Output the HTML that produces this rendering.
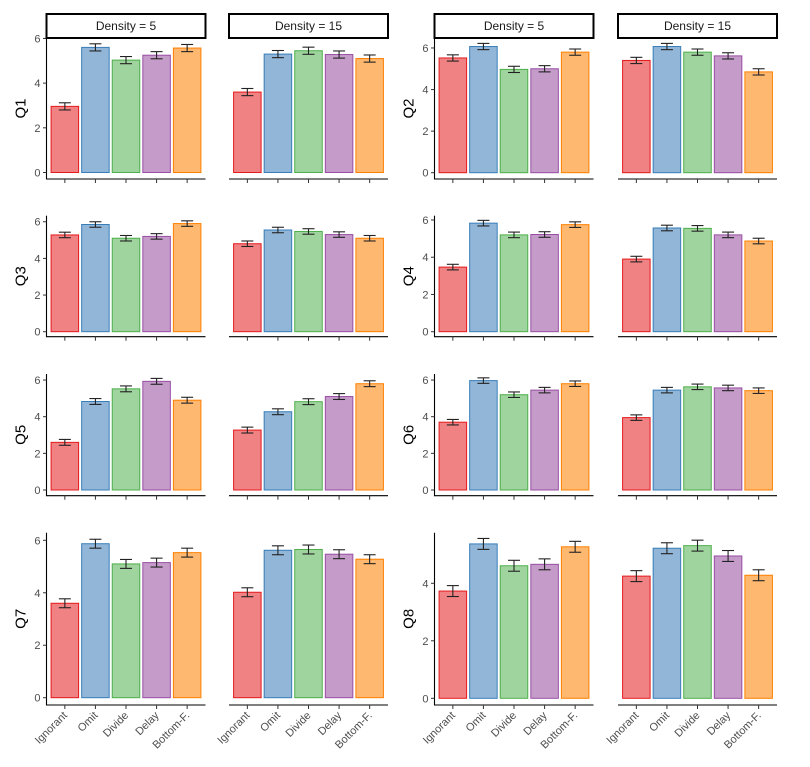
<!DOCTYPE html>
<html><head><meta charset="utf-8"><style>
body{margin:0;background:#fff;}
svg{display:block;font-family:"Liberation Sans",Arial,sans-serif;}
</style></head><body>
<svg id="chart" width="810" height="767"></svg>
<script>
const categories = ["Ignorant","Omit","Divide","Delay","Bottom-F."];
const densities = ["Density = 5","Density = 15"];
const questions = ["Q1","Q2","Q3","Q4","Q5","Q6","Q7","Q8"];
const q1d5 = [2.96,5.60,5.03,5.25,5.57];
const q1d15 = [3.60,5.30,5.45,5.28,5.10];
const q2d5 = [5.52,6.07,4.97,5.00,5.80];
const q2d15 = [5.40,6.07,5.80,5.62,4.85];
const q3d5 = [5.28,5.85,5.10,5.20,5.90];
const q3d15 = [4.80,5.55,5.47,5.30,5.10];
const q4d5 = [3.47,5.83,5.20,5.22,5.75];
const q4d15 = [3.90,5.57,5.55,5.20,4.87];
const q5d5 = [2.60,4.83,5.52,5.93,4.90];
const q5d15 = [3.27,4.27,4.82,5.10,5.80];
const q6d5 = [3.70,5.97,5.20,5.45,5.80];
const q6d15 = [3.95,5.45,5.63,5.57,5.42];
const q7d5 = [3.60,5.87,5.10,5.15,5.53];
const q7d15 = [4.02,5.62,5.65,5.47,5.28];
const q8d5 = [3.73,5.37,4.61,4.66,5.27];
const q8d15 = [4.25,5.22,5.31,4.95,4.28];
const errHalf = [0.16,0.15,0.15,0.15,0.16,0.15,0.17,0.19];
const yTicksStd = [0,2,4,6];
const yTicksQ8 = [0,2,4];

const seriesByQ = [[q1d5,q1d15],[q2d5,q2d15],[q3d5,q3d15],[q4d5,q4d15],[q5d5,q5d15],[q6d5,q6d15],[q7d5,q7d15],[q8d5,q8d15]];
const fills = ["#F08284","#92B6D8","#A0D49E","#C59CC9","#FFB870"];
const strokes = ["#E41A1C","#377EB8","#4DAF4A","#984EA3","#FF7F00"];
const colLeft = [46.5,229,434.5,618];
const panelW = 159;
// per-question frame: top px, zero px, ymax
const frames = [[38,172.5,6.02],[38,172.7,6.48],[215.7,331.7,6.33],[215.7,331.7,6.23],[374,490,6.33],[374,490,6.33],[532.7,697.7,6.29],[532.7,698.3,5.76]];
const axisYs = [179,336.7,495.7,705];

const NS="http://www.w3.org/2000/svg";
const svg=document.getElementById('chart');
function mk(tag,attrs,parent){const e=document.createElementNS(NS,tag);for(const k in attrs)e.setAttribute(k,attrs[k]);(parent||svg).appendChild(e);return e;}

questions.forEach((q,qi)=>{
  const row=Math.floor(qi/2), pair=qi%2;
  const [top,zero,ymax]=frames[qi];
  const yScale=v=>zero-v*(zero-top)/ymax;
  const axisY=axisYs[row];
  const ticks = qi===7?yTicksQ8:yTicksStd;
  // y axis (on first panel of pair)
  const axL=colLeft[pair*2];
  const yl=mk('line',{x1:axL,x2:axL,y1:top,y2:axisY+0.5,stroke:'#000','stroke-width':1.1});
  
  
  ticks.forEach(t=>{
    const yy=yScale(t);
    mk('line',{x1:axL-3.5,x2:axL,y1:yy,y2:yy,stroke:'#333','stroke-width':1});
    const tl=mk('text',{x:axL-6,y:yy+4,'text-anchor':'end','font-size':11,fill:'#4d4d4d'});
    tl.textContent=t;
    
    
  });
  const yt=mk('text',{x:0,y:0,'text-anchor':'middle','font-size':15,fill:'#000',transform:`translate(${axL-21},${(top+axisY)/2}) rotate(-90)`});
  yt.textContent=q;
  
  
  for(let d=0;d<2;d++){
    const L=colLeft[pair*2+d];
    const ppu=panelW/5.2;
    const xC=i=>L+(i+0.6)*ppu;
    const bw=0.9*ppu;
    const xl=mk('line',{x1:L,x2:L+panelW,y1:axisY,y2:axisY,stroke:'#000','stroke-width':1.1});
    
    
    if(row===0){
      const sr=mk('rect',{x:L,y:14,width:panelW,height:24,fill:'#fff',stroke:'#000','stroke-width':2});
      
      
      const st=mk('text',{x:L+panelW/2,y:30,'text-anchor':'middle','font-size':12,fill:'#1a1a1a'});
      st.textContent=densities[d];
      
      
    }
    const vals=seriesByQ[qi][d];
    const e=errHalf[qi];
    categories.forEach((c,i)=>{
      const cx=xC(i), v=vals[i];
      const b=mk('rect',{x:cx-bw/2,y:yScale(v),width:bw,height:yScale(0)-yScale(v),fill:fills[i],stroke:strokes[i],'stroke-width':1});
      
      
      const g=mk('g',{stroke:'#222','stroke-width':1.1});
      
      
      const yh=yScale(v+e), ylw=yScale(v-e);
      mk('line',{x1:cx,x2:cx,y1:yh,y2:ylw},g);
      mk('line',{x1:cx-6,x2:cx+6,y1:yh,y2:yh},g);
      mk('line',{x1:cx-6,x2:cx+6,y1:ylw,y2:ylw},g);
      mk('line',{x1:cx,x2:cx,y1:axisY,y2:axisY+4,stroke:'#333','stroke-width':1});
      if(row===3){
        const tx=mk('text',{x:0,y:0,'text-anchor':'end','font-size':11,fill:'#4d4d4d',transform:`translate(${cx+3},${axisY+11}) rotate(-45)`});
        tx.textContent=c;
        
        
      }
    });
  }
});
</script>
</body></html>
